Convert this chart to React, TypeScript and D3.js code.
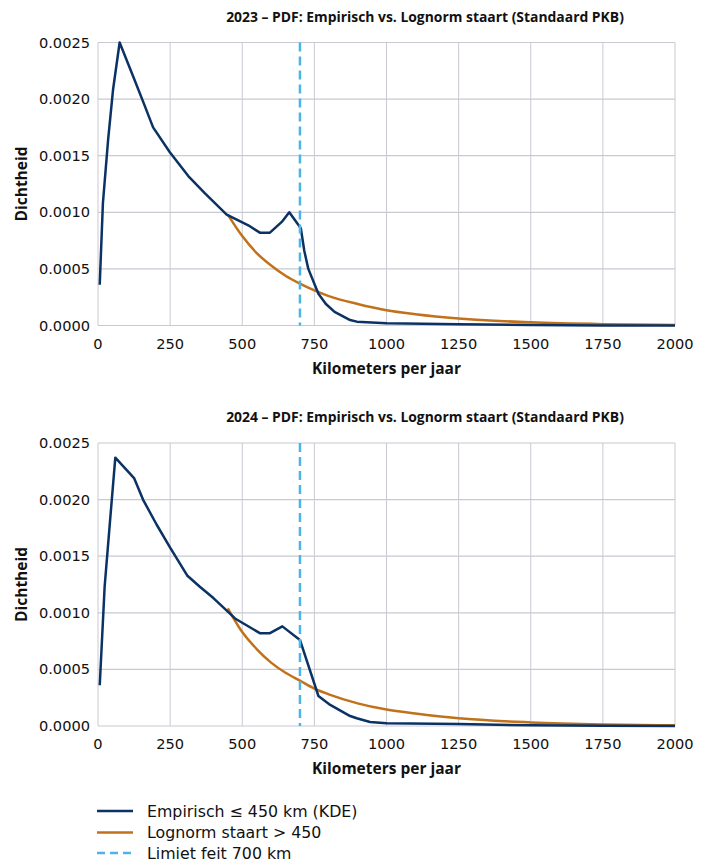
import React from "react";
import * as d3 from "d3";

const W = 712;
const H = 863;

// x ticks / y ticks
const xTicks = [0, 250, 500, 750, 1000, 1250, 1500, 1750, 2000];
const yTicks = [0, 0.0005, 0.001, 0.0015, 0.002, 0.0025];
const limit = 700;

// 2023 empirical KDE (km, density)
const kde2023X = [6, 17, 35, 52, 75, 122, 156, 191, 249, 313, 370, 446, 521, 561, 596, 637, 663, 703, 715, 729, 764, 790, 820, 874, 897, 1000, 1250, 1500, 1750, 2000];
const kde2023Y = [0.00036, 0.00108, 0.00164, 0.00208, 0.0025, 0.0022, 0.00198, 0.00175, 0.00153, 0.00132, 0.00117, 0.00098, 0.000885, 0.00082, 0.00082, 0.000915, 0.001, 0.00086, 0.00066, 0.0005, 0.00028, 0.00019, 0.00012, 0.000048, 0.000034, 0.00002, 0.00001, 0.000004, 0.000001, 0];

// 2023 lognormal tail
const tail2023X = [450, 500, 550, 600, 650, 700, 750, 800, 900, 1000, 1100, 1250, 1500, 1750, 2000];
const tail2023Y = [0.00098, 0.00079, 0.00064, 0.00053, 0.00044, 0.00037, 0.00031, 0.00026, 0.00019, 0.000135, 0.0001, 0.000062, 0.000028, 0.000012, 0.000005];

// 2024 empirical KDE
const kde2024X = [6, 23, 41, 60, 125, 156, 203, 249, 309, 353, 400, 450, 475, 561, 596, 639, 700, 764, 805, 874, 897, 943, 1000, 1250, 1500, 1750, 2000];
const kde2024Y = [0.00036, 0.00123, 0.00179, 0.00237, 0.00219, 0.002, 0.00178, 0.00158, 0.00133, 0.00123, 0.00113, 0.00101, 0.00095, 0.00082, 0.00082, 0.00088, 0.00076, 0.000265, 0.000186, 0.000088, 0.000068, 0.000035, 0.000024, 0.000018, 0.000006, 0.000002, 0];

// 2024 lognormal tail
const tail2024X = [450, 500, 550, 600, 650, 700, 750, 800, 900, 1000, 1100, 1250, 1500, 1750, 2000];
const tail2024Y = [0.00104, 0.00083, 0.00068, 0.00056, 0.00047, 0.0004, 0.00033, 0.00028, 0.0002, 0.000145, 0.00011, 0.000068, 0.000032, 0.000014, 0.000006];

const legendLabels = ["Empirisch ≤ 450 km (KDE)", "Lognorm staart > 450", "Limiet feit 700 km"];

const NAVY = "#0b3264";
const ORANGE = "#c2711b";
const SKY = "#4cb5e8";
const GRID = "#c9c9d2";
const FONT = "'DejaVu Sans', sans-serif";
const TFONT = "'Open Sans', sans-serif";

const left = 98;
const right = 675;

const Panel = ({ top, title, kx, ky, tx, ty }) => {
  const bottom = top + 283;
  const x = d3.scaleLinear().domain([0, 2000]).range([left, right]);
  const y = d3.scaleLinear().domain([0, 0.0025]).range([bottom, top]);

  const kde = d3.line().x((d) => x(d[0])).y((d) => y(d[1]))(kx.map((v, i) => [v, ky[i]]));
  const tail = d3
    .line()
    .curve(d3.curveMonotoneX)
    .x((d) => x(d[0]))
    .y((d) => y(d[1]))(tx.map((v, i) => [v, ty[i]]));

  return (
    <g>
      <text x={425} y={top - 21} textAnchor="middle" fontFamily={TFONT} fontWeight="bold" fontSize={13.9} fill="#111">
        {title}
      </text>
      {xTicks.map((t) => (
        <line key={"gx" + t} x1={x(t)} x2={x(t)} y1={top} y2={bottom} stroke={GRID} strokeWidth={1} />
      ))}
      {yTicks.map((t) => (
        <line key={"gy" + t} x1={left} x2={right} y1={y(t)} y2={y(t)} stroke={GRID} strokeWidth={1.2} />
      ))}
      {xTicks.map((t) => (
        <text key={"tx" + t} x={x(t)} y={bottom + 23} textAnchor="middle" fontFamily={FONT} fontSize={14.6} fill="#111">
          {t}
        </text>
      ))}
      {yTicks.map((t) => (
        <text key={"ty" + t} x={90} y={y(t) + 5} textAnchor="end" fontFamily={FONT} fontSize={14.6} fill="#111">
          {d3.format(".4f")(t)}
        </text>
      ))}
      <text x={(left + right) / 2} y={bottom + 48} textAnchor="middle" fontFamily={TFONT} fontWeight="bold" fontSize={15.5} fill="#111">
        Kilometers per jaar
      </text>
      <text
        transform={`translate(27,${(top + bottom) / 2}) rotate(-90)`}
        textAnchor="middle"
        fontFamily={TFONT}
        fontWeight="bold"
        fontSize={15.5}
        fill="#111"
      >
        Dichtheid
      </text>
      <path d={tail} fill="none" stroke={ORANGE} strokeWidth={2.5} />
      <path d={kde} fill="none" stroke={NAVY} strokeWidth={2.5} strokeLinejoin="round" />
      <line x1={x(limit)} x2={x(limit)} y1={top} y2={bottom} stroke={SKY} strokeWidth={2.5} strokeDasharray="9,5" />
    </g>
  );
};

export default function App() {
  const legendY = [811, 832.5, 853];
  const legendColors = [NAVY, ORANGE, SKY];
  return (
    <svg width={W} height={H} style={{ position: "absolute", left: 0, top: 0, background: "#fff" }}>
      <Panel top={42.5} title="2023 – PDF: Empirisch vs. Lognorm staart (Standaard PKB)" kx={kde2023X} ky={kde2023Y} tx={tail2023X} ty={tail2023Y} />
      <Panel top={443} title="2024 – PDF: Empirisch vs. Lognorm staart (Standaard PKB)" kx={kde2024X} ky={kde2024Y} tx={tail2024X} ty={tail2024Y} />
      {legendLabels.map((l, i) => (
        <g key={l}>
          <line
            x1={97}
            x2={133}
            y1={legendY[i]}
            y2={legendY[i]}
            stroke={legendColors[i]}
            strokeWidth={2.5}
            strokeDasharray={i === 2 ? "8,5" : undefined}
          />
          <text x={147} y={legendY[i] + 5.5} fontFamily={FONT} fontSize={15.8} fill="#111">
            {l}
          </text>
        </g>
      ))}
    </svg>
  );
}
